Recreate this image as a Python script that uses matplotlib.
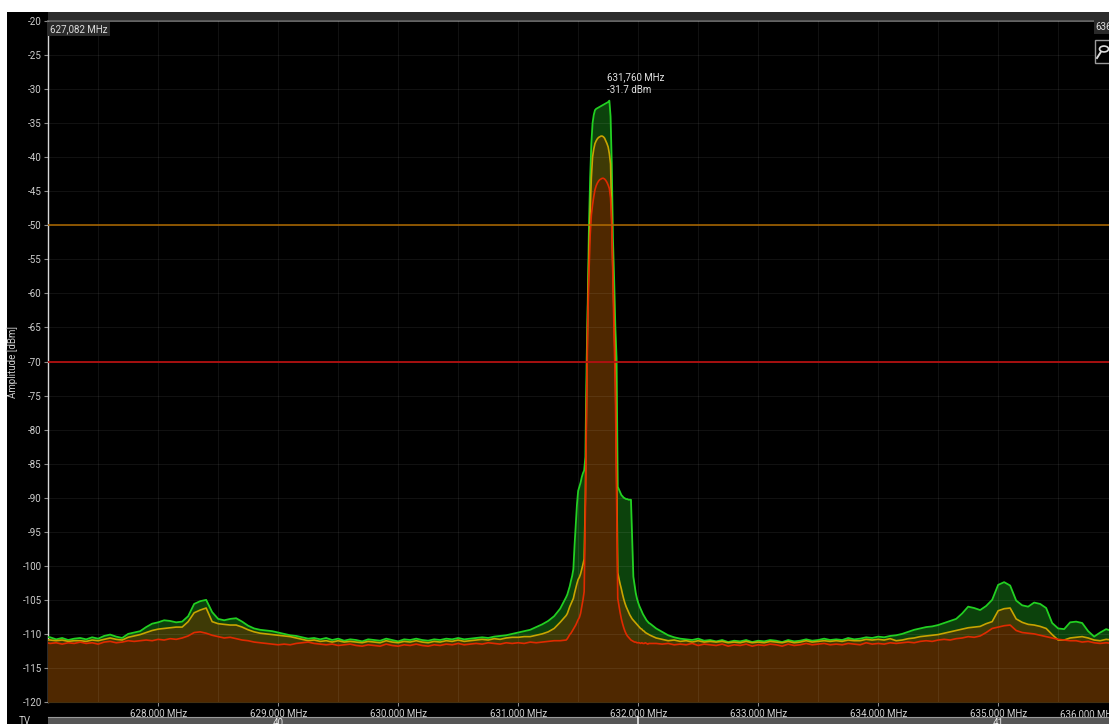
import numpy as np
import matplotlib
matplotlib.use("Agg")
import matplotlib.pyplot as plt
from matplotlib.patches import Rectangle, Circle
from matplotlib.lines import Line2D

plt.rcParams['font.family'] = ['Roboto', 'DejaVu Sans']

# ---------------- spectrum data (MHz / dBm) ----------------
# frequency grid: coarse below the carrier, fine across it, coarse above
freq_left = np.round(627.05 + 0.05 * np.arange(87), 2)     # 627.05 .. 631.35
freq_mid = np.round(631.40 + 0.01 * np.arange(71), 2)      # 631.40 .. 632.10
freq_right = np.round(632.15 + 0.05 * np.arange(77), 2)    # 632.15 .. 635.95

# max-hold trace
max_left = [
    -110.4, -110.5, -110.8, -110.6, -110.9, -110.7, -110.6, -110.8, -110.5, -110.7,
    -110.3, -110.1, -110.4, -110.6, -110.0, -109.8, -109.6, -109.0, -108.5, -108.3,
    -108.0, -108.1, -108.3, -108.2, -107.4, -105.6, -105.2, -105.0, -106.8, -107.8,
    -108.0, -107.8, -107.7, -108.2, -108.8, -109.2, -109.4, -109.5, -109.6, -109.8,
    -110.0, -110.2, -110.3, -110.5, -110.7, -110.6, -110.8, -110.6, -110.9, -110.7,
    -111.0, -110.8, -110.9, -111.1, -110.8, -110.9, -111.0, -110.7, -110.9, -111.1,
    -110.8, -110.9, -110.7, -110.9, -111.0, -110.8, -110.9, -110.7, -110.8, -110.6,
    -110.8, -110.7, -110.6, -110.5, -110.6, -110.4, -110.3, -110.2, -110.0, -109.8,
    -109.6, -109.4, -109.0, -108.6, -108.1, -107.4, -106.3,
]
max_mid = [
    -104.6, -104.2, -103.6, -103.0, -102.2, -101.5, -100.5, -97.0, -94.0, -91.0,
    -89.0, -88.4, -87.8, -87.0, -86.4, -86.0, -84.0, -70.5, -61.0, -50.0,
    -43.0, -38.0, -35.0, -33.8, -33.1, -32.9, -32.8, -32.7, -32.6, -32.5,
    -32.4, -32.3, -32.2, -32.1, -32.0, -31.9, -31.7, -34.0, -41.0, -52.0,
    -58.0, -65.0, -69.5, -88.4, -88.8, -89.2, -89.6, -89.8, -90.0, -90.1,
    -90.2, -90.2, -90.3, -90.3, -90.3, -96.0, -101.6, -102.8, -104.0, -104.8,
    -105.4, -105.9, -106.3, -106.7, -107.1, -107.4, -107.7, -108.0, -108.2, -108.4,
    -108.5,
]
max_right = [
    -109.2, -109.7, -110.2, -110.5, -110.7, -110.8, -110.9, -110.7, -111.0, -110.9,
    -111.1, -110.9, -111.2, -111.0, -111.1, -110.9, -111.2, -111.0, -111.1, -110.9,
    -111.0, -111.2, -110.9, -111.1, -111.0, -110.8, -111.0, -110.9, -110.7, -110.9,
    -110.8, -110.9, -110.6, -110.8, -110.7, -110.5, -110.6, -110.4, -110.5, -110.3,
    -110.2, -110.0, -109.7, -109.4, -109.2, -109.0, -108.9, -108.7, -108.4, -108.1,
    -107.8, -107.0, -106.0, -106.2, -106.5, -105.9, -105.0, -102.8, -102.4, -102.9,
    -105.1, -105.8, -106.0, -105.4, -105.6, -106.2, -108.4, -109.2, -109.3, -108.3,
    -108.2, -108.4, -109.6, -110.4, -109.8, -109.3, -109.6,
]

# average trace
avg_left = [
    -110.8, -110.9, -111.0, -110.9, -111.1, -111.0, -111.0, -111.1, -110.9, -111.0,
    -110.8, -110.6, -110.8, -110.9, -110.5, -110.3, -110.1, -109.8, -109.5, -109.3,
    -109.2, -109.1, -109.0, -109.0, -108.2, -106.9, -106.5, -106.2, -108.2, -108.5,
    -108.6, -108.7, -108.7, -109.0, -109.4, -109.7, -109.9, -110.0, -110.1, -110.2,
    -110.3, -110.4, -110.6, -110.8, -111.0, -110.9, -111.1, -111.0, -111.2, -111.0,
    -111.2, -111.1, -111.2, -111.3, -111.1, -111.2, -111.3, -111.0, -111.2, -111.3,
    -111.1, -111.2, -111.0, -111.2, -111.3, -111.1, -111.2, -111.0, -111.1, -110.9,
    -111.1, -111.0, -110.9, -110.8, -110.9, -110.7, -110.8, -110.6, -110.5, -110.5,
    -110.4, -110.4, -110.2, -110.0, -109.7, -109.2, -108.3,
]
avg_mid = [
    -107.3, -107.0, -106.5, -106.0, -105.6, -105.2, -104.8, -104.0, -103.3, -102.6,
    -102.0, -101.7, -101.2, -100.5, -99.8, -99.0, -90.0, -75.0, -62.0, -54.0,
    -48.0, -43.0, -40.0, -38.8, -38.0, -37.6, -37.3, -37.1, -37.0, -36.9,
    -36.9, -37.0, -37.2, -37.6, -38.0, -38.5, -39.5, -41.0, -49.0, -57.0,
    -64.0, -71.0, -85.0, -101.0, -101.9, -102.7, -103.4, -104.2, -104.9, -105.5,
    -106.0, -106.4, -106.8, -107.2, -107.5, -107.8, -108.0, -108.2, -108.4, -108.6,
    -108.8, -109.0, -109.2, -109.3, -109.5, -109.6, -109.8, -109.9, -110.0, -110.1,
    -110.2,
]
avg_right = [
    -110.6, -110.8, -111.0, -110.9, -111.1, -111.0, -111.2, -111.0, -111.2, -111.1,
    -111.2, -111.1, -111.3, -111.2, -111.3, -111.1, -111.3, -111.2, -111.3, -111.1,
    -111.2, -111.3, -111.1, -111.3, -111.2, -111.0, -111.2, -111.1, -111.0, -111.1,
    -111.0, -111.1, -110.9, -111.0, -111.0, -110.8, -110.9, -110.8, -110.9, -110.7,
    -111.0, -110.9, -110.7, -110.6, -110.4, -110.3, -110.2, -110.1, -109.9, -109.7,
    -109.5, -109.3, -109.1, -109.0, -108.9, -108.5, -108.2, -106.6, -106.3, -106.2,
    -107.8, -108.3, -108.6, -108.7, -108.9, -109.2, -110.1, -110.9, -110.9, -110.6,
    -110.5, -110.4, -110.6, -110.9, -111.0, -110.8, -110.9,
]

# live trace
live_left = [
    -111.2, -111.4, -111.3, -111.5, -111.3, -111.4, -111.2, -111.4, -111.3, -111.5,
    -111.2, -111.1, -111.3, -111.2, -111.0, -111.1, -111.0, -110.9, -111.0, -110.8,
    -110.9, -110.7, -110.8, -110.6, -110.3, -109.8, -109.7, -109.9, -110.2, -110.4,
    -110.6, -110.5, -110.7, -110.9, -111.0, -111.2, -111.3, -111.4, -111.5, -111.6,
    -111.5, -111.6, -111.4, -111.3, -111.2, -111.4, -111.5, -111.6, -111.5, -111.7,
    -111.6, -111.5, -111.7, -111.8, -111.6, -111.7, -111.8, -111.5, -111.7, -111.8,
    -111.6, -111.7, -111.5, -111.7, -111.8, -111.6, -111.7, -111.5, -111.6, -111.4,
    -111.6, -111.5, -111.4, -111.5, -111.3, -111.4, -111.5, -111.3, -111.4, -111.3,
    -111.4, -111.2, -111.3, -111.2, -111.1, -111.0, -111.0,
]
live_mid = [
    -110.9, -110.7, -110.4, -110.1, -109.9, -109.6, -109.3, -109.0, -108.7, -108.3,
    -107.9, -107.6, -107.0, -106.0, -105.0, -103.8, -92.0, -77.0, -64.0, -57.0,
    -51.5, -48.5, -47.0, -45.8, -44.8, -44.2, -43.8, -43.5, -43.3, -43.2,
    -43.1, -43.1, -43.2, -43.4, -43.7, -44.1, -44.6, -46.0, -50.0, -58.5,
    -66.5, -74.0, -90.0, -104.8, -105.9, -106.9, -107.8, -108.5, -109.1, -109.6,
    -110.0, -110.3, -110.5, -110.7, -110.9, -111.0, -111.1, -111.2, -111.2, -111.3,
    -111.3, -111.3, -111.4, -111.3, -111.4, -111.4, -111.3, -111.4, -111.5, -111.4,
    -111.4,
]
live_right = [
    -111.4, -111.5, -111.4, -111.6, -111.5, -111.6, -111.4, -111.7, -111.5, -111.6,
    -111.7, -111.5, -111.8, -111.6, -111.7, -111.5, -111.8, -111.6, -111.7, -111.5,
    -111.6, -111.8, -111.5, -111.7, -111.6, -111.4, -111.6, -111.5, -111.4, -111.6,
    -111.5, -111.6, -111.4, -111.5, -111.6, -111.3, -111.5, -111.4, -111.5, -111.3,
    -111.4, -111.3, -111.2, -111.3, -111.1, -111.0, -111.1, -110.9, -110.8, -110.9,
    -110.7, -110.6, -110.4, -110.5, -110.3, -109.8, -109.2, -109.0, -108.8, -108.7,
    -109.5, -109.8, -109.9, -110.0, -110.2, -110.4, -110.6, -110.8, -110.9, -111.0,
    -111.0, -111.2, -111.1, -111.3, -111.4, -111.3, -111.4,
]

freq = np.concatenate([freq_left, freq_mid, freq_right])
max_hold = np.array(max_left + max_mid + max_right)
average = np.array(avg_left + avg_mid + avg_right)
live = np.array(live_left + live_mid + live_right)

peak_freq = 631.760
peak_level = -31.7
threshold_warn = -50
threshold_alarm = -70

x_ticks = [628, 629, 630, 631, 632, 633, 634, 635]
x_tick_labels = ["628,000 MHz", "629,000 MHz", "630,000 MHz", "631,000 MHz",
                 "632,000 MHz", "633,000 MHz", "634,000 MHz", "635,000 MHz"]
y_ticks = list(range(-120, -15, 5))
span_start = 627.082
tv_channels = [("40", 629.0), ("41", 635.0)]
tv_boundary = 632.0

# ---------------- figure layout ----------------
W, H = 1109, 724
fig = plt.figure(figsize=(W / 100, H / 100), dpi=100, facecolor="white")

# dark panel behind everything
fig.patches.append(Rectangle((7 / W, 0), 1, (H - 12) / H, transform=fig.transFigure,
                             facecolor="black", edgecolor="none", zorder=-20))
# header strip above the plot
fig.patches.append(Rectangle((48 / W, (H - 20) / H), 1, 8 / H, transform=fig.transFigure,
                             facecolor="#2c2c2c", edgecolor="none", zorder=-10))

px_per_mhz = 120.0
ax = fig.add_axes([48 / W, 22 / H, (W - 48) / W, 681 / H])
ax.set_facecolor("black")
ax.set_xlim(span_start, span_start + (W - 48) / px_per_mhz)
ax.set_ylim(-120, -20)

# stacked filled traces
floor = -120
ax.fill_between(freq, floor, max_hold, color="#0c420c", lw=0, zorder=2)
ax.fill_between(freq, floor, average, color="#3e3a06", lw=0, zorder=3)
ax.fill_between(freq, floor, live, color="#4f2800", lw=0, zorder=4)
ax.plot(freq, max_hold, color="#22d022", lw=1.3, zorder=6)
ax.plot(freq, average, color="#c9a400", lw=1.2, zorder=7)
ax.plot(freq, live, color="#e02a00", lw=1.2, zorder=8)

# grid
for gx in np.arange(627.5, 636.1, 0.5):
    ax.axvline(gx, color="white", alpha=0.07, lw=0.8, zorder=5)
for gy in y_ticks:
    ax.axhline(gy, color="white", alpha=0.07, lw=0.8, zorder=5)

# threshold lines
ax.axhline(threshold_warn, color="#b06a00", lw=1.1, zorder=9)
ax.axhline(threshold_alarm, color="#b31010", lw=1.3, zorder=9)

# axes styling
ax.set_xticks(x_ticks)
ax.set_xticklabels(x_tick_labels)
ax.set_yticks(y_ticks)
ax.set_yticklabels([str(v) for v in y_ticks])
ax.tick_params(axis="both", colors="#8a8a8a", labelcolor="#cfcfcf", labelsize=7,
               length=3, width=0.8, direction="out", pad=1.5)
ax.spines["right"].set_visible(False)
ax.spines["left"].set_color("#d8d8d8")
ax.spines["left"].set_linewidth(1.0)
ax.spines["top"].set_color("#6a6a6a")
ax.spines["top"].set_linewidth(1.2)
ax.spines["bottom"].set_color("#3a3a3a")
ax.set_ylabel("Amplitude [dBm]", color="#cfcfcf", fontsize=7)
ax.yaxis.set_label_coords(-30 / (W - 48), 0.5)

# last frequency label, pushed inside the frame
ax.text(635.757, -121.1, "636,000 MHz", ha="center", va="top", fontsize=7,
        color="#cfcfcf", clip_on=False)

# peak marker text
ax.text(peak_freq - 0.02, peak_level + 3.5, "631,760 MHz", fontsize=7,
        color="#e2e2e2", ha="left", va="center", zorder=10)
ax.text(peak_freq - 0.02, peak_level + 1.6, f"{peak_level:.1f} dBm", fontsize=7,
        color="#e2e2e2", ha="left", va="center", zorder=10)

# span start / end tags
ax.text(0.002, 0.995, "627,082 MHz", transform=ax.transAxes, fontsize=7,
        color="#dcdcdc", ha="left", va="top", zorder=11,
        bbox=dict(boxstyle="square,pad=0.2", facecolor="#2a2a2a", edgecolor="none"))
fig.text(1095.5 / W, (H - 27) / H, "636", fontsize=7, color="#dcdcdc",
         ha="left", va="center", zorder=11,
         bbox=dict(boxstyle="square,pad=0.2", facecolor="#2a2a2a", edgecolor="none"))

# zoom button
fig.patches.append(Rectangle((1095 / W, (H - 63) / H), 20 / W, 23 / H,
                             transform=fig.transFigure, facecolor="black",
                             edgecolor="#9a9a9a", lw=1.0, zorder=12))
fig.patches.append(Circle((1104 / W, (H - 49) / H), 4.5 / W, transform=fig.transFigure,
                          facecolor="none", edgecolor="#dddddd", lw=1.2, zorder=13))
fig.lines.append(Line2D([1100.5 / W, 1097 / W], [(H - 52.5) / H, (H - 58) / H],
                        transform=fig.transFigure, color="#dddddd", lw=1.4, zorder=13))

# TV channel strip
strip_h = 7
fig.patches.append(Rectangle((48 / W, 0), 1, strip_h / H, transform=fig.transFigure,
                             facecolor="#565656", edgecolor="none", zorder=2))
fig.lines.append(Line2D([48 / W, 1], [strip_h / H, strip_h / H], transform=fig.transFigure,
                        color="#9a9a9a", lw=0.8, zorder=3))


def fx(mhz):
    return (48 + (mhz - span_start) * px_per_mhz) / W


fig.lines.append(Line2D([fx(tv_boundary)] * 2, [0, strip_h / H], transform=fig.transFigure,
                        color="#e8e8e8", lw=1.2, zorder=4))
for name, centre in tv_channels:
    fig.text(fx(centre), 0.5 / H, name, fontsize=7, color="#e8e8e8",
             ha="center", va="center", zorder=5)
fig.text(25 / W, 3 / H, "TV", fontsize=7, color="#cfcfcf", ha="center", va="center")

fig.savefig("out.png", dpi=100, facecolor="white")
